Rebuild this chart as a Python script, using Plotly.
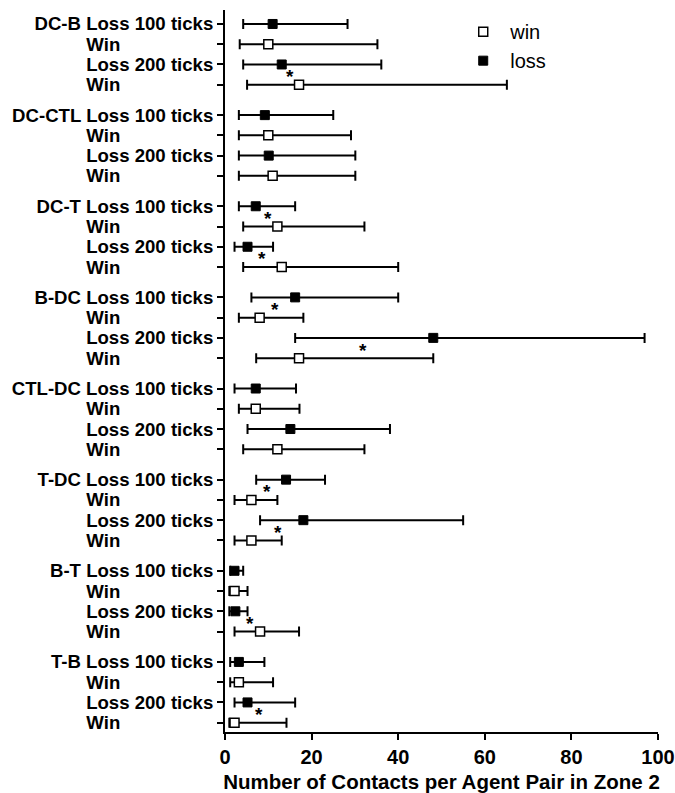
import plotly.graph_objects as go

# ---------------- data ----------------
groups = ["DC-B", "DC-CTL", "DC-T", "B-DC", "CTL-DC", "T-DC", "B-T", "T-B"]

loss100_lo  = [4.2, 3.2, 3.2, 6.1, 2.2, 7.2, 1.2, 1.2]
loss100_med = [11, 9.2, 7.1, 16.2, 7.1, 14.1, 2.2, 3.2]
loss100_hi  = [28.3, 25, 16.2, 40, 16.4, 23.1, 4.2, 9.1]

win100_lo   = [3.4, 3.2, 4.2, 3.2, 3.2, 2.2, 1.0, 1.2]
win100_med  = [10, 10, 12.1, 8, 7.1, 6.1, 2.2, 3.2]
win100_hi   = [35.2, 29.1, 32.2, 18.1, 17.2, 12.1, 5.2, 11.1]

loss200_lo  = [4.2, 3.2, 2.2, 16.2, 5.2, 8.1, 1.0, 2.2]
loss200_med = [13.1, 10.1, 5.2, 48.1, 15.1, 18.1, 2.4, 5.2]
loss200_hi  = [36.1, 30.1, 11.1, 96.9, 38.1, 55, 5.2, 16.2]

win200_lo   = [5.1, 3.2, 4.2, 7.2, 4.2, 2.2, 2.2, 1.0]
win200_med  = [17.1, 11, 13.1, 17.1, 12.1, 6.1, 8.1, 2.2]
win200_hi   = [65.1, 30.1, 40, 48.1, 32.2, 13.1, 17.1, 14.2]

# significance markers: group, tick duration of the loss/win pair, x position
star_group = ["DC-B", "DC-T", "DC-T", "B-DC", "B-DC", "T-DC", "T-DC", "B-T", "T-B"]
star_ticks = [200, 100, 200, 100, 200, 100, 200, 200, 200]
star_x     = [15.1, 10.0, 8.6, 11.5, 31.9, 9.8, 12.3, 5.8, 7.9]

x_ticks = [0, 20, 40, 60, 80, 100]
x_title = "Number of Contacts per Agent Pair in Zone 2"

# ---------------- layout helpers ----------------
GROUP_STEP = 4.5
def pos(gi, r):
    return gi * GROUP_STEP + r

NB = "\u00a0"
win_label = "Win" + NB * 18

tickvals, ticktext = [], []
for gi, g in enumerate(groups):
    tickvals += [pos(gi, 0), pos(gi, 1), pos(gi, 2), pos(gi, 3)]
    ticktext += [f"{g} Loss 100 ticks", win_label, "Loss 200 ticks", win_label]

loss_y, loss_x, loss_lo, loss_hi = [], [], [], []
win_y, win_x, win_lo, win_hi = [], [], [], []
for gi in range(len(groups)):
    loss_y += [pos(gi, 0), pos(gi, 2)]
    loss_x += [loss100_med[gi], loss200_med[gi]]
    loss_lo += [loss100_lo[gi], loss200_lo[gi]]
    loss_hi += [loss100_hi[gi], loss200_hi[gi]]
    win_y += [pos(gi, 1), pos(gi, 3)]
    win_x += [win100_med[gi], win200_med[gi]]
    win_lo += [win100_lo[gi], win200_lo[gi]]
    win_hi += [win100_hi[gi], win200_hi[gi]]

def err(x, lo, hi):
    return dict(type="data", symmetric=False,
                array=[h - m for m, h in zip(x, hi)],
                arrayminus=[m - l for m, l in zip(x, lo)],
                color="black", thickness=2, width=5)

fig = go.Figure()
fig.add_trace(go.Scatter(
    x=win_x, y=win_y, mode="markers", name="win",
    marker=dict(symbol="square", size=9, color="white",
                line=dict(color="black", width=1.5)),
    error_x=err(win_x, win_lo, win_hi),
))
fig.add_trace(go.Scatter(
    x=loss_x, y=loss_y, mode="markers", name="loss",
    marker=dict(symbol="square", size=9, color="black",
                line=dict(color="black", width=1)),
    error_x=err(loss_x, loss_lo, loss_hi),
))

for g, t, sx in zip(star_group, star_ticks, star_x):
    gi = groups.index(g)
    r = 0 if t == 100 else 2
    fig.add_annotation(x=sx, y=pos(gi, r) + 0.5, text="<b>*</b>", showarrow=False,
                       font=dict(family="Liberation Sans", size=19, color="black"),
                       yshift=-2)

n_rows_end = pos(len(groups) - 1, 3)
fig.update_layout(
    width=675, height=793,
    margin=dict(l=225, r=17, t=10, b=61, autoexpand=False),
    paper_bgcolor="white", plot_bgcolor="white",
    font=dict(family="Liberation Sans", color="black"),
    showlegend=True,
    legend=dict(x=0.534, y=0.997, xanchor="left", yanchor="top", itemwidth=44,
                font=dict(family="Liberation Sans", size=20, color="black"),
                bgcolor="rgba(0,0,0,0)"),
    xaxis=dict(range=[0, 100], tickvals=x_ticks, ticks="outside", ticklen=6,
               tickwidth=2, tickcolor="black", showline=True, linewidth=2,
               linecolor="black", showgrid=False, zeroline=False, automargin=False,
               tickfont=dict(family="Liberation Sans", size=20, weight="bold"),
               title=dict(text=x_title, standoff=10,
                          font=dict(family="Liberation Sans", size=20.5, weight="bold"))),
    yaxis=dict(range=[n_rows_end + 0.46, -0.69], tickvals=tickvals, ticktext=ticktext,
               ticks="outside", ticklen=6, tickwidth=1.5, tickcolor="black",
               showline=True, linewidth=2, linecolor="black", showgrid=False,
               zeroline=False, automargin=False,
               tickfont=dict(family="Liberation Sans", size=18.6, weight="bold")),
)

fig.write_html("out.html", config={"displayModeBar": False},
               post_script="document.body.style.margin='0px';")
